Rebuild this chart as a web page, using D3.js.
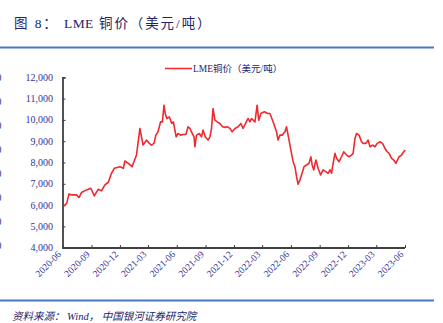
<!DOCTYPE html>
<html><head><meta charset="utf-8">
<script src="https://cdn.jsdelivr.net/npm/d3@7"></script>
<style>body{margin:0;background:#fff;overflow:hidden}svg{display:block}</style>
</head><body><svg id="c" width="443" height="323"></svg>
<script>
const titleParts = ["图 8： ", "LME", " 铜价（美元/吨）"];
const seriesName = "LME铜价（美元/吨）";
const source = "资料来源： Wind，  中国银河证券研究院";
const dates = ["2020-06-03","2020-06-14","2020-06-21","2020-06-29","2020-07-15","2020-07-23","2020-07-31","2020-08-16","2020-08-30","2020-09-10","2020-09-23","2020-10-03","2020-10-14","2020-10-25","2020-11-04","2020-11-13","2020-12-01","2020-12-12","2020-12-17","2020-12-28","2021-01-09","2021-01-23","2021-02-03","2021-02-08","2021-02-13","2021-02-24","2021-03-05","2021-03-12","2021-03-20","2021-03-26","2021-04-02","2021-04-10","2021-04-16","2021-04-21","2021-04-25","2021-04-30","2021-05-08","2021-05-16","2021-05-21","2021-05-30","2021-06-05","2021-06-13","2021-06-21","2021-06-30","2021-07-07","2021-07-13","2021-07-18","2021-07-26","2021-07-29","2021-08-03","2021-08-12","2021-08-19","2021-08-24","2021-08-31","2021-09-09","2021-09-15","2021-09-20","2021-09-25","2021-10-01","2021-10-08","2021-10-17","2021-10-25","2021-11-02","2021-11-09","2021-11-18","2021-11-25","2021-12-04","2021-12-14","2021-12-23","2021-12-30","2022-01-07","2022-01-15","2022-01-21","2022-01-26","2022-02-06","2022-02-13","2022-02-18","2022-02-25","2022-03-08","2022-03-19","2022-03-26","2022-04-05","2022-04-16","2022-04-21","2022-04-27","2022-05-04","2022-05-13","2022-05-18","2022-05-23","2022-05-29","2022-06-03","2022-06-08","2022-06-14","2022-06-19","2022-06-24","2022-06-30","2022-07-05","2022-07-13","2022-07-21","2022-07-29","2022-08-04","2022-08-08","2022-08-13","2022-08-20","2022-08-27","2022-09-04","2022-09-12","2022-09-21","2022-09-28","2022-10-04","2022-10-09","2022-10-14","2022-10-20","2022-10-25","2022-11-02","2022-11-10","2022-11-17","2022-11-26","2022-12-04","2022-12-12","2022-12-17","2022-12-23","2022-12-28","2023-01-05","2023-01-13","2023-01-18","2023-01-27","2023-02-03","2023-02-09","2023-02-17","2023-02-25","2023-03-04","2023-03-13","2023-03-21","2023-03-29","2023-04-05","2023-04-11","2023-04-19","2023-04-26","2023-05-03","2023-05-08","2023-05-13","2023-05-21","2023-05-28","2023-06-02"];
const prices = [5932,6090,6526,6480,6480,6355,6590,6713,6793,6430,6746,6666,6947,7073,7494,7728,7803,7728,8070,7962,7803,8350,9600,9207,8818,9052,8898,8818,8898,9286,9441,9909,9909,10690,10300,10067,10144,9833,9909,9207,9363,9286,9316,9316,9676,9600,9441,9207,8739,9286,9363,9207,9520,9207,9052,9207,9600,10535,9988,9909,9833,9676,9650,9676,9600,9441,9600,9676,9833,9600,9833,10067,9909,10067,9909,10690,9988,10300,10379,10300,10300,9909,9441,9052,9286,9286,9441,9676,9286,8818,8430,8037,7803,7335,6980,7181,7415,7803,7883,7962,8270,7883,7650,8117,7728,7415,7650,7570,7494,7650,7494,7962,8430,8197,8037,8270,8505,8350,8270,8350,8430,9132,9363,9286,8973,8898,8898,9052,8739,8818,8739,8898,8973,8898,8660,8505,8430,8197,8117,7962,8117,8270,8350,8505,8584];
const yTicks = [4000,5000,6000,7000,8000,9000,10000,11000,12000];
const xTickLabels = ["2020-06","2020-09","2020-12","2021-03","2021-06","2021-09","2021-12","2022-03","2022-06","2022-09","2022-12","2023-03","2023-06"];

const parse = d3.utcParse("%Y-%m-%d");
const parseM = d3.utcParse("%Y-%m");
const data = dates.map((d,i)=>({d:parse(d), v:prices[i]}));
const xTicks = xTickLabels.map(parseM);

const svg = d3.select("#c");
const navy = "#33339a";
const serif = "'Liberation Serif','Times New Roman','Noto Sans CJK SC',serif";

// title
const t = svg.append("text").attr("x",14).attr("y",27.5)
  .attr("font-family",serif).attr("font-size",13.5).attr("fill","#23236a");
titleParts.forEach((s,i)=>{
  t.append("tspan").attr("letter-spacing", i===1 ? 0.4 : 1.9).text(s);
});
svg.append("line").attr("x1",0).attr("x2",434).attr("y1",47.5).attr("y2",47.5)
  .attr("stroke","#4a76c6").attr("stroke-width",2);
svg.append("line").attr("x1",0).attr("x2",434).attr("y1",300.5).attr("y2",300.5)
  .attr("stroke","#4a76c6").attr("stroke-width",2);
svg.append("text").attr("x",12).attr("y",320)
  .attr("font-family",serif).attr("font-size",10.5).attr("font-style","italic")
  .attr("fill","#23236a").text(source);

// cut-off labels of neighbouring chart at left edge (as in reference)
[77,101,125,149,173,197,221,245].forEach(y=>{
  svg.append("text").attr("x",1.6).attr("y",y+3.5).attr("text-anchor","end")
    .attr("font-family",serif).attr("font-size",10).attr("fill",navy).text("0");
});

const x = d3.scaleUtc().domain([parseM("2020-06"), parseM("2023-06")]).range([62.7,405]);
const y = d3.scaleLinear().domain([4000,12000]).range([247.7,77.3]);

// y axis
const ya = svg.append("g").attr("transform","translate(62.5,0)")
  .call(d3.axisRight(y).tickValues(yTicks).tickSize(3).tickFormat(""));
ya.select(".domain").attr("stroke","#404040").attr("stroke-width",1.8);
ya.selectAll(".tick line").attr("stroke","#404040");
svg.append("g").selectAll("text").data(yTicks).join("text")
  .attr("x",53).attr("y",d=>y(d)+3.5).attr("text-anchor","end")
  .attr("font-family",serif).attr("font-size",10).attr("fill",navy)
  .text(d3.format(","));

// x axis
const xa = svg.append("g").attr("transform","translate(0,248)")
  .call(d3.axisTop(x).tickValues(xTicks).tickSize(3).tickFormat(""));
xa.select(".domain").attr("stroke","#404040").attr("stroke-width",1.8)
  .attr("d", `M${x.range()[0]},0H${x.range()[1]}`);
xa.selectAll(".tick line").attr("stroke","#404040");
svg.append("g").selectAll("text").data(xTicks).join("text")
  .attr("transform",(d,i)=>`translate(${x(d)-1},${255}) rotate(-45)`)
  .attr("text-anchor","end")
  .attr("font-family",serif).attr("font-size",9.5).attr("fill",navy)
  .text((d,i)=>xTickLabels[i]);

// line
svg.append("path").datum(data)
  .attr("d", d3.line().x(p=>x(p.d)).y(p=>y(p.v)))
  .attr("fill","none").attr("stroke","#ee2a30").attr("stroke-width",1.6)
  .attr("stroke-linejoin","round");

// legend
svg.append("line").attr("x1",165).attr("x2",192).attr("y1",68.5).attr("y2",68.5)
  .attr("stroke","#ee2a30").attr("stroke-width",1.5);
svg.append("text").attr("x",193).attr("y",72)
  .attr("font-family",serif).attr("font-size",9.5).attr("fill","#23236a").text(seriesName);
</script></body></html>
